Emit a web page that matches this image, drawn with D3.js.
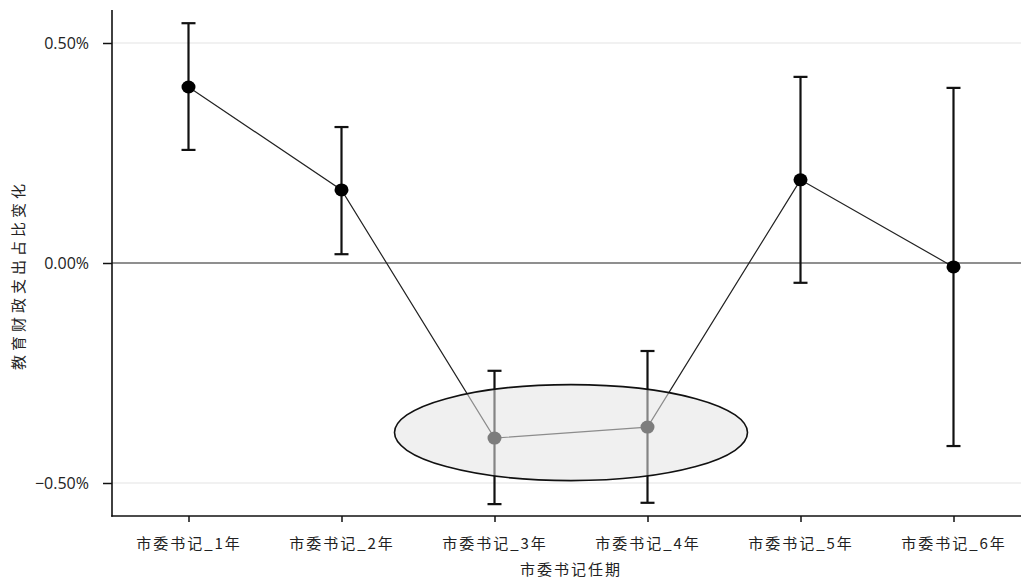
<!DOCTYPE html>
<html>
<head>
<meta charset="utf-8">
<script src="https://cdn.jsdelivr.net/npm/d3@7/dist/d3.min.js"></script>
<style>
  html, body { margin: 0; padding: 0; background: #fff; }
  svg { display: block; }
</style>
</head>
<body>
<svg id="chart" width="1021" height="580"></svg>
<script>
// Coefficients (in %) with 95% confidence intervals by year of tenure
const categories = ["市委书记_1年", "市委书记_2年", "市委书记_3年", "市委书记_4年", "市委书记_5年", "市委书记_6年"];
const estimates = [0.400, 0.166, -0.398, -0.373, 0.189, -0.009];
const ciLower = [0.257, 0.020, -0.548, -0.545, -0.045, -0.416];
const ciUpper = [0.545, 0.309, -0.245, -0.200, 0.423, 0.398];
const yTicks = [-0.5, 0, 0.5];
const highlighted = ["市委书记_3年", "市委书记_4年"];

const svg = d3.select("#chart");
const W = 1021, H = 580;
const mLeft = 112, mTop = 10, mBottom = 516;

const x = d3.scalePoint().domain(categories).range([mLeft, 1030]).padding(0.5);
const y = d3.scaleLinear().domain([-0.575, 0.575]).range([mBottom, mTop]);

const rows = categories.map((c, i) => ({ c, est: estimates[i], lo: ciLower[i], hi: ciUpper[i] }));

// light gridlines at ±0.5%
svg.append("g").selectAll("line")
  .data(yTicks.filter(d => d !== 0))
  .join("line")
  .attr("x1", mLeft).attr("x2", W)
  .attr("y1", d => y(d)).attr("y2", d => y(d))
  .attr("stroke", "#ececec").attr("stroke-width", 1.5);

// zero reference line
svg.append("line")
  .attr("x1", mLeft).attr("x2", W)
  .attr("y1", y(0)).attr("y2", y(0))
  .attr("stroke", "#6a6a6a").attr("stroke-width", 1.3);

// connecting line
svg.append("path")
  .datum(rows)
  .attr("fill", "none")
  .attr("stroke", "#222")
  .attr("stroke-width", 1.2)
  .attr("d", d3.line().x(d => x(d.c)).y(d => y(d.est)));

// confidence intervals
const eb = svg.append("g").selectAll("g").data(rows).join("g");
eb.append("line")
  .attr("x1", d => x(d.c)).attr("x2", d => x(d.c))
  .attr("y1", d => y(d.lo)).attr("y2", d => y(d.hi))
  .attr("stroke", "#111").attr("stroke-width", 2.2);
eb.append("line")
  .attr("x1", d => x(d.c) - 7).attr("x2", d => x(d.c) + 7)
  .attr("y1", d => y(d.hi)).attr("y2", d => y(d.hi))
  .attr("stroke", "#111").attr("stroke-width", 2.2);
eb.append("line")
  .attr("x1", d => x(d.c) - 7).attr("x2", d => x(d.c) + 7)
  .attr("y1", d => y(d.lo)).attr("y2", d => y(d.lo))
  .attr("stroke", "#111").attr("stroke-width", 2.2);

// point estimates
svg.append("g").selectAll("ellipse").data(rows).join("ellipse")
  .attr("cx", d => x(d.c)).attr("cy", d => y(d.est))
  .attr("rx", 7).attr("ry", 6.5)
  .attr("fill", "#000");

// highlight over the two negative years
const hx = highlighted.map(c => x(c));
const hy = highlighted.map(c => y(estimates[categories.indexOf(c)]));
const cx = (hx[0] + hx[1]) / 2;
const cy = (hy[0] + hy[1]) / 2;
svg.append("ellipse")
  .attr("cx", cx).attr("cy", cy)
  .attr("rx", (hx[1] - hx[0]) / 2 + 100).attr("ry", 48)
  .attr("fill", "#e4e4e4").attr("fill-opacity", 0.55)
  .attr("stroke", "#111").attr("stroke-width", 1.6);

// axes
const yAxis = svg.append("g")
  .attr("transform", `translate(${mLeft},0)`)
  .call(d3.axisLeft(y).tickValues(yTicks).tickSize(9).tickPadding(14)
    .tickFormat(d => d3.format(".2f")(d) + "%"));
yAxis.select(".domain").remove();
yAxis.selectAll(".tick line").attr("stroke", "#111").attr("stroke-width", 1.5);
yAxis.selectAll("text")
  .attr("font-family", "'Open Sans', 'DejaVu Sans', sans-serif")
  .attr("font-size", 16).attr("fill", "#222");
svg.append("line")
  .attr("x1", mLeft).attr("x2", mLeft).attr("y1", mTop).attr("y2", mBottom + 0.75)
  .attr("stroke", "#111").attr("stroke-width", 1.6);

const xAxis = svg.append("g")
  .attr("transform", `translate(0,${mBottom})`)
  .call(d3.axisBottom(x).tickSize(6).tickPadding(16));
xAxis.select(".domain").remove();
xAxis.selectAll(".tick line").attr("stroke", "#111").attr("stroke-width", 1.5);
xAxis.selectAll("text")
  .attr("font-family", "'Noto Sans CJK SC', sans-serif")
  .attr("font-size", 15).attr("fill", "#222")
  .attr("letter-spacing", 2);
svg.append("line")
  .attr("x1", mLeft - 0.75).attr("x2", W).attr("y1", mBottom).attr("y2", mBottom)
  .attr("stroke", "#111").attr("stroke-width", 1.6);

// axis titles
svg.append("text")
  .attr("x", (x(categories[2]) + x(categories[3])) / 2).attr("y", 575)
  .attr("text-anchor", "middle")
  .attr("font-family", "'Noto Sans CJK SC', sans-serif")
  .attr("font-size", 15).attr("fill", "#222")
  .attr("letter-spacing", 2)
  .text("市委书记任期");
svg.append("text")
  .attr("transform", `translate(24,${(mTop + mBottom) / 2 + 12}) rotate(-90)`)
  .attr("text-anchor", "middle")
  .attr("font-family", "'Noto Sans CJK SC', sans-serif")
  .attr("font-size", 15).attr("fill", "#222")
  .attr("letter-spacing", 4)
  .text("教育财政支出占比变化");
</script>
</body>
</html>
